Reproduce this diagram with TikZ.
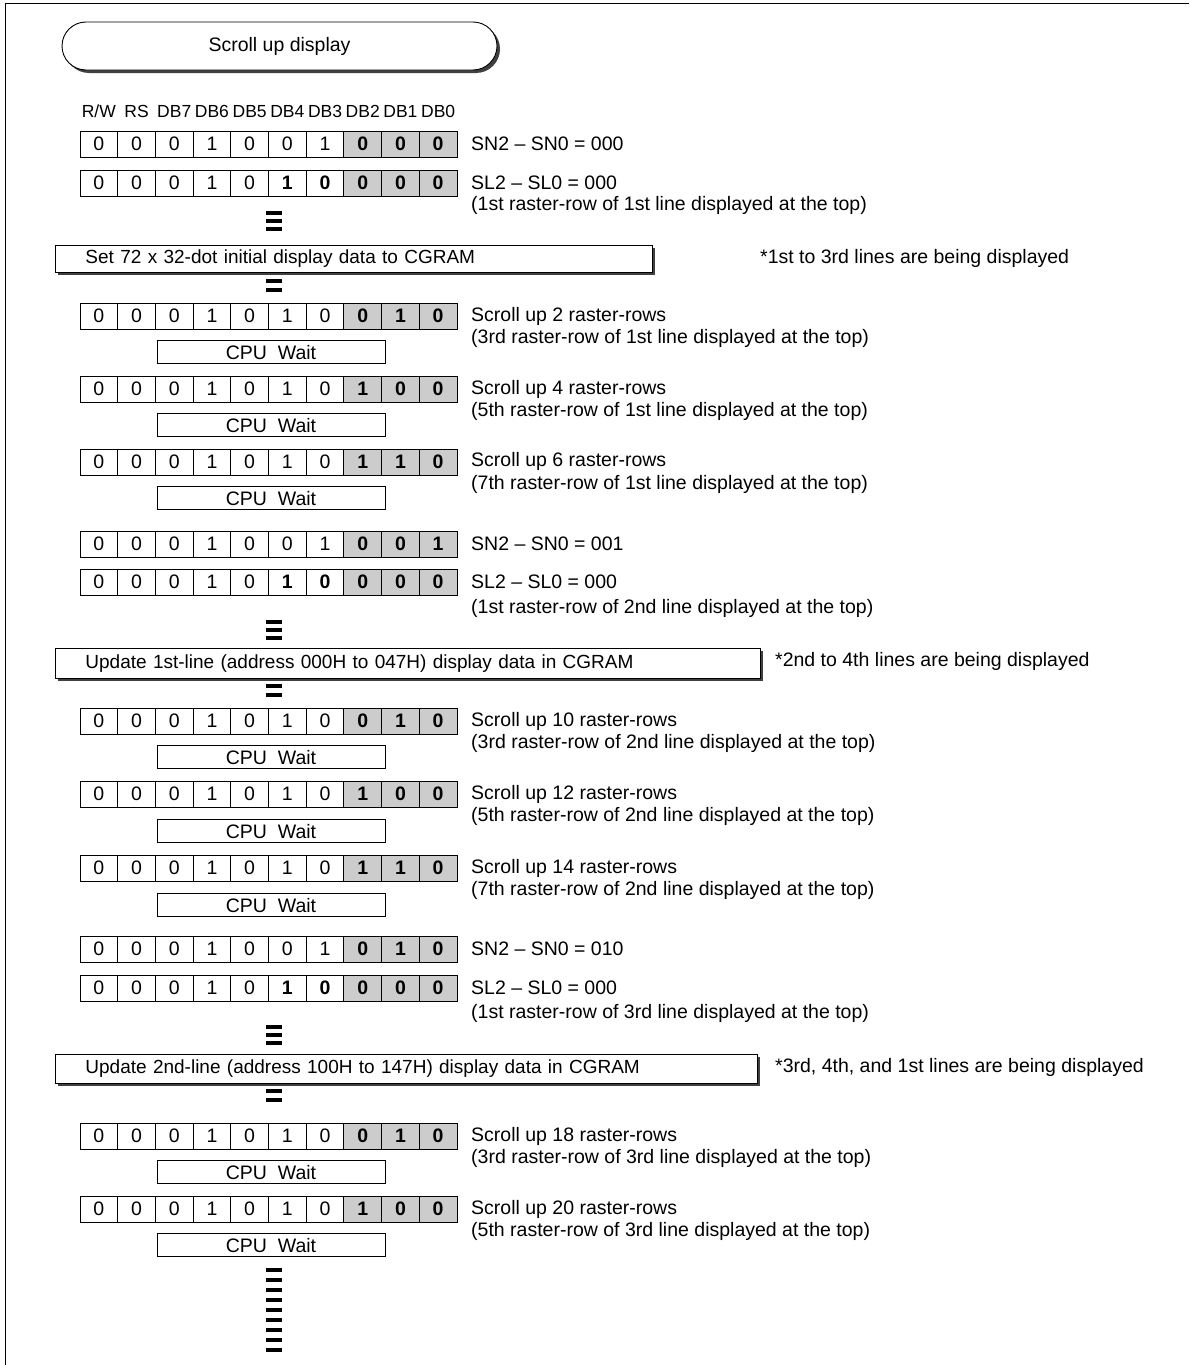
\documentclass[tikz,border=0pt]{standalone}
\usepackage{fontspec}
\setmainfont{Liberation Sans}
\setsansfont{Liberation Sans}
\usetikzlibrary{positioning,calc,shadows}

\newcommand{\mainsize}{\fontsize{19.5}{23}\selectfont}
\tikzset{
  cell/.style={draw, line width=0.9pt, minimum width=37.7pt, minimum height=26pt, inner sep=0pt},
  bitcell/.style={cell, fill=gray!40, font=\mainsize\bfseries},
  headlab/.style={inner sep=0pt, anchor=base, font=\fontsize{17.5}{20}\selectfont},
  notelab/.style={anchor=west, inner sep=0pt},
  waitbox/.style={draw, line width=0.9pt, minimum width=228pt, text height=17pt, text depth=3pt, inner ysep=1.5pt},
  shadowed/.style={drop shadow={shadow xshift=3pt, shadow yshift=-3pt, fill=gray!50!black, opacity=1}},
  stepbox/.style={draw, fill=white, line width=0.9pt, anchor=north west, inner xsep=30pt, inner ysep=0pt, align=left, shadowed},
  dotbar/.style={line width=4pt},
}

% one register write: name, y, ten bit values
\newcommand{\bitrow}[3]{%
  \foreach \v [count=\i] in {#3} {
    \ifnum\i>7
      \node[bitcell] (#1c\i) at ({80+(\i-0.5)*37.7},#2) {\v};
    \else
      \node[cell] (#1c\i) at ({80+(\i-0.5)*37.7},#2) {\v};
    \fi
  }}
% row of short bars: name, y of first bar, count, spacing
\newcommand{\dotbars}[4]{%
  \foreach \k in {1,...,#3} {
    \coordinate (#1l\k) at (266,{#2+(\k-1)*#4});
    \coordinate (#1r\k) at (282,{#2+(\k-1)*#4});
    \draw[dotbar] (#1l\k) -- (#1r\k);
  }}

\begin{document}
\begin{tikzpicture}[x=1pt, y=-1pt, font=\mainsize]
    \useasboundingbox (0,0) rectangle (1189,1365);
    \draw[line width=1pt] (5,1365) -- (5,3) -- (1189,3);

    % Titolo
    \node[draw, fill=white, line width=0.9pt, rounded corners=24pt, minimum width=435pt, minimum height=48pt, shadowed] (title) at (279.5,46) {Scroll up display};

    % Intestazione
    \foreach \h [count=\i] in {R/W,RS,DB7,DB6,DB5,DB4,DB3,DB2,DB1,DB0}
        \node[headlab] (h\i) at ({80+(\i-0.5)*37.7},117) {\h};

    % Prima riga
    \bitrow{a}{144}{0,0,0,1,0,0,1,0,0,0}
    \node[notelab] (na) at (471,144) {SN2 \textendash{} SN0 = 000};
    \bitrow{b}{183}{0,0,0,1,0,{\bfseries 1},{\bfseries 0},0,0,0}
    \node[notelab] (nb) at (471,183) {SL2 \textendash{} SL0 = 000};
    \node[notelab] (nb2) at (471,205) {(1st raster-row of 1st line displayed at the top)};
    \dotbars{d1}{213}{3}{8}
    \node[stepbox, minimum width=597pt, minimum height=27pt, text width=537pt, font=\fontsize{19}{23}\selectfont] (set) at (55,245) {Set 72 x 32-dot initial display data to CGRAM};
    \node[notelab] (nset) at (760,258) {*1st to 3rd lines are being displayed};
    \dotbars{d2}{281}{2}{9}

    \bitrow{c}{316}{0,0,0,1,0,1,0,0,1,0}
    \node[notelab] (nc) at (471,316) {Scroll up 2 raster-rows};
    \node[notelab] (nc2) at (471,338) {(3rd raster-row of 1st line displayed at the top)};
    \node[waitbox] (wc) at (271,352) {CPU~ Wait};
    \bitrow{e}{389}{0,0,0,1,0,1,0,1,0,0}
    \node[notelab] (ne) at (471,389) {Scroll up 4 raster-rows};
    \node[notelab] (ne2) at (471,411) {(5th raster-row of 1st line displayed at the top)};
    \node[waitbox] (we) at (271,425) {CPU~ Wait};
    \bitrow{f}{462}{0,0,0,1,0,1,0,1,1,0}
    \node[notelab] (nf) at (471,461) {Scroll up 6 raster-rows};
    \node[notelab] (nf2) at (471,484) {(7th raster-row of 1st line displayed at the top)};
    \node[waitbox] (wf) at (271,498) {CPU~ Wait};

    % Seconda riga
    \bitrow{g}{544}{0,0,0,1,0,0,1,0,0,1}
    \node[notelab] (ng) at (471,544) {SN2 \textendash{} SN0 = 001};
    \bitrow{k}{582}{0,0,0,1,0,{\bfseries 1},{\bfseries 0},0,0,0}
    \node[notelab] (nk) at (471,582) {SL2 \textendash{} SL0 = 000};
    \node[notelab] (nk2) at (471,608) {(1st raster-row of 2nd line displayed at the top)};
    \dotbars{d3}{622}{3}{8}
    \node[stepbox, minimum width=705pt, minimum height=30pt, text width=645pt, font=\fontsize{19}{23}\selectfont] (upd1) at (55,648) {Update 1st-line (address 000H to 047H) display data in CGRAM};
    \node[notelab] (nupd1) at (775,661) {*2nd to 4th lines are being displayed};
    \dotbars{d4}{686}{2}{9}

    \bitrow{m}{721}{0,0,0,1,0,1,0,0,1,0}
    \node[notelab] (nm) at (471,721) {Scroll up 10 raster-rows};
    \node[notelab] (nm2) at (471,743) {(3rd raster-row of 2nd line displayed at the top)};
    \node[waitbox] (wm) at (271,757) {CPU~ Wait};
    \bitrow{p}{794}{0,0,0,1,0,1,0,1,0,0}
    \node[notelab] (np) at (471,794) {Scroll up 12 raster-rows};
    \node[notelab] (np2) at (471,816) {(5th raster-row of 2nd line displayed at the top)};
    \node[waitbox] (wp) at (271,831) {CPU~ Wait};
    \bitrow{q}{868}{0,0,0,1,0,1,0,1,1,0}
    \node[notelab] (nq) at (471,868) {Scroll up 14 raster-rows};
    \node[notelab] (nq2) at (471,890) {(7th raster-row of 2nd line displayed at the top)};
    \node[waitbox] (wq) at (271,905) {CPU~ Wait};

    % Terza riga
    \bitrow{s}{949}{0,0,0,1,0,0,1,0,1,0}
    \node[notelab] (ns) at (471,949) {SN2 \textendash{} SN0 = 010};
    \bitrow{t}{988}{0,0,0,1,0,{\bfseries 1},{\bfseries 0},0,0,0}
    \node[notelab] (nt) at (471,988) {SL2 \textendash{} SL0 = 000};
    \node[notelab] (nt2) at (471,1013) {(1st raster-row of 3rd line displayed at the top)};
    \dotbars{d5}{1027}{3}{8}
    \node[stepbox, minimum width=702pt, minimum height=29pt, text width=642pt, font=\fontsize{19}{23}\selectfont] (upd2) at (55,1054) {Update 2nd-line (address 100H to 147H) display data in CGRAM};
    \node[notelab] (nupd2) at (775,1067) {*3rd, 4th, and 1st lines are being displayed};
    \dotbars{d6}{1091}{2}{9}

    \bitrow{u}{1136}{0,0,0,1,0,1,0,0,1,0}
    \node[notelab] (nu) at (471,1136) {Scroll up 18 raster-rows};
    \node[notelab] (nu2) at (471,1158) {(3rd raster-row of 3rd line displayed at the top)};
    \node[waitbox] (wu) at (271,1172) {CPU~ Wait};
    \bitrow{v}{1209}{0,0,0,1,0,1,0,1,0,0}
    \node[notelab] (nv) at (471,1209) {Scroll up 20 raster-rows};
    \node[notelab] (nv2) at (471,1231) {(5th raster-row of 3rd line displayed at the top)};
    \node[waitbox] (wv) at (271,1245) {CPU~ Wait};

    % Continua
    \dotbars{d7}{1270}{9}{10}
\end{tikzpicture}
\end{document}
